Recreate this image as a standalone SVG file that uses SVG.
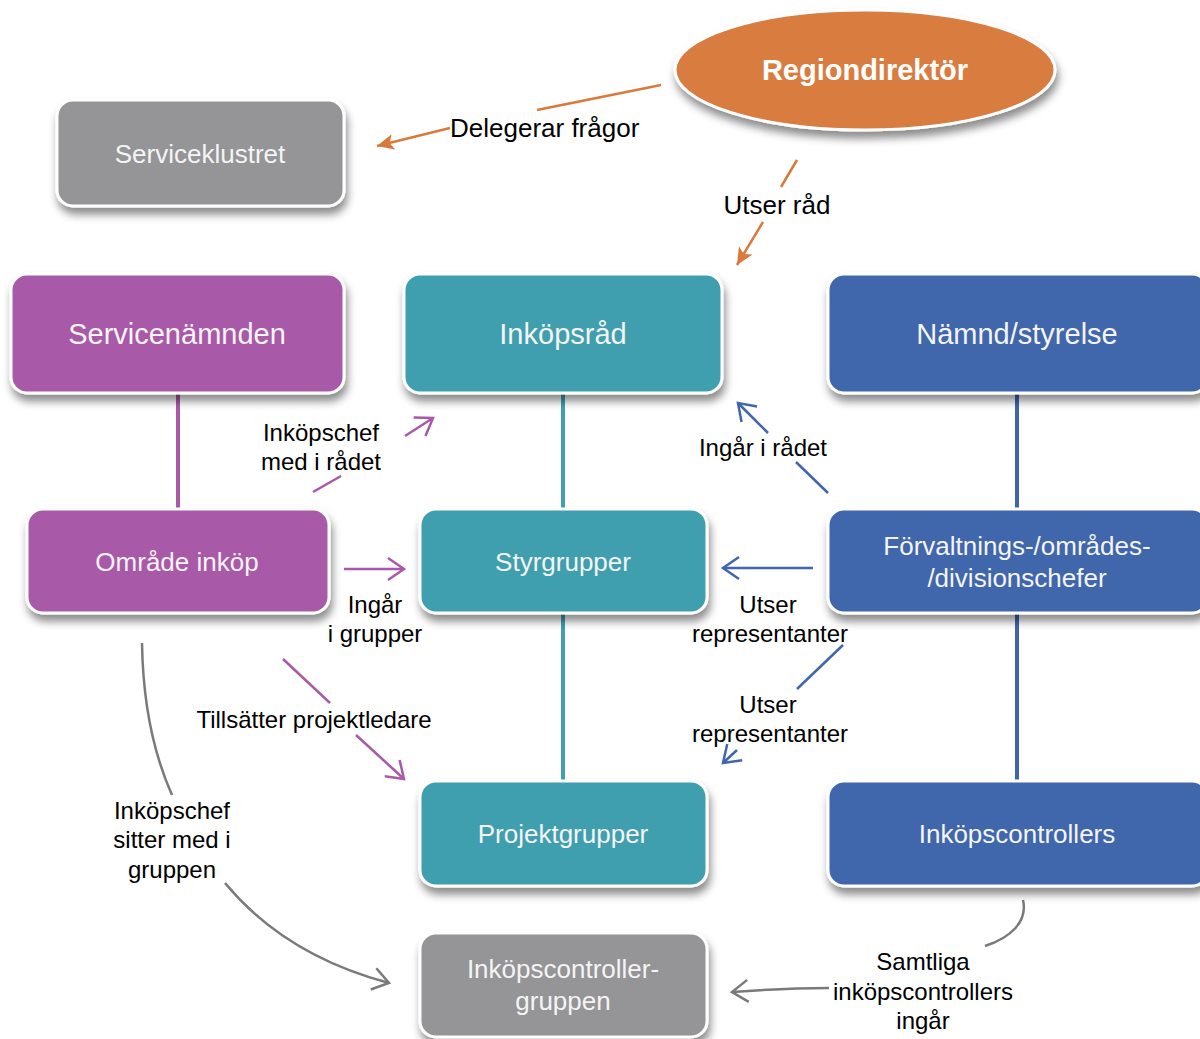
<svg xmlns="http://www.w3.org/2000/svg" width="1200" height="1039" viewBox="0 0 1200 1039">
<style>
.box{stroke:#ffffff;stroke-width:3;filter:url(#sh)}
.nt{font-family:"Liberation Sans",Arial,sans-serif;fill:#f4f4f4;text-anchor:middle}
.lb{font-family:"Liberation Sans",Arial,sans-serif;fill:#000;text-anchor:middle;font-size:24px}
.c{fill:none;stroke-width:2.5}
.or{stroke:#D9793B}.pu{stroke:#A85AA8}.bl{stroke:#4066AC}.gr{stroke:#7a7a7a}
.gray{fill:#959597}.purple{fill:#A85AA8}.teal{fill:#419FAF}.blue{fill:#3F66AB}
</style>
<defs>
<filter id="sh" x="-10%" y="-10%" width="125%" height="135%">
<feDropShadow dx="2" dy="7" stdDeviation="4" flood-color="#000" flood-opacity="0.45"/>
</filter>
<marker id="aPu" markerUnits="userSpaceOnUse" markerWidth="22" markerHeight="26" viewBox="0 0 22 26" refX="19" refY="13" orient="auto"><path d="M3,2 L19,13 L3,24" fill="none" stroke="#A85AA8" stroke-width="2.5"/></marker>
<marker id="aBl" markerUnits="userSpaceOnUse" markerWidth="22" markerHeight="26" viewBox="0 0 22 26" refX="19" refY="13" orient="auto"><path d="M3,2 L19,13 L3,24" fill="none" stroke="#4066AC" stroke-width="2.5"/></marker>
<marker id="aGr" markerUnits="userSpaceOnUse" markerWidth="22" markerHeight="26" viewBox="0 0 22 26" refX="19" refY="13" orient="auto"><path d="M3,2 L19,13 L3,24" fill="none" stroke="#7a7a7a" stroke-width="2.5"/></marker>
<marker id="aOr" markerUnits="userSpaceOnUse" markerWidth="18" markerHeight="16" viewBox="0 0 18 16" refX="17" refY="8" orient="auto"><path d="M0,0 L17,8 L0,16 L4,8 Z" fill="#D9793B"/></marker>
</defs>
<rect width="1200" height="1039" fill="#ffffff"/>

<g id="connectors">
<line class="c pu" x1="178" y1="393" x2="178" y2="509" stroke-width="4" style="stroke-width:4"/>
<line class="c" x1="563" y1="393" x2="563" y2="509" style="stroke:#419FAF;stroke-width:4"/>
<line class="c" x1="563" y1="613" x2="563" y2="781" style="stroke:#419FAF;stroke-width:4"/>
<line class="c" x1="1017" y1="393" x2="1017" y2="509" style="stroke:#3F66AB;stroke-width:4"/>
<line class="c" x1="1017" y1="613" x2="1017" y2="781" style="stroke:#3F66AB;stroke-width:4"/>

<path class="c or" d="M661,85 L537,110"/>
<path class="c or" d="M450,128 L377,146" marker-end="url(#aOr)"/>
<path class="c or" d="M797,160 L781,187"/>
<path class="c or" d="M763,222 L737,265" marker-end="url(#aOr)"/>

<path class="c pu" d="M313,492 L341,476"/>
<path class="c pu" d="M405,436 L433,418" marker-end="url(#aPu)"/>
<path class="c bl" d="M828,493 L796,462"/>
<path class="c bl" d="M768,433 L738,403" marker-end="url(#aBl)"/>

<path class="c pu" d="M344,569 L404,569" marker-end="url(#aPu)"/>
<path class="c bl" d="M813,568 L723,568" marker-end="url(#aBl)"/>
<path class="c bl" d="M843,645 L797,689"/>
<path class="c bl" d="M737,750 L723,763" marker-end="url(#aBl)"/>

<path class="c pu" d="M283,659 L330,703"/>
<path class="c pu" d="M356,735 L404,779" marker-end="url(#aPu)"/>

<path class="c gr" d="M142,643 C143,705 155,757 172,795"/>
<path class="c gr" d="M225,883 C268,935 325,966 389,983" marker-end="url(#aGr)"/>
<path class="c gr" d="M1023,900 C1028,922 1010,938 985,946"/>
<path class="c gr" d="M829,988 C800,988 760,990 732,992" marker-end="url(#aGr)"/>
</g>

<g id="labels">
<text class="lb" x="450" y="137" style="text-anchor:start;font-size:26px">Delegerar frågor</text>
<text class="lb" x="777" y="214" style="font-size:26px">Utser råd</text>
<text class="lb" x="321" y="441">Inköpschef</text>
<text class="lb" x="321" y="470">med i rådet</text>
<text class="lb" x="763" y="456">Ingår i rådet</text>
<text class="lb" x="375" y="613">Ingår</text>
<text class="lb" x="375" y="642">i grupper</text>
<text class="lb" x="768" y="613">Utser</text>
<text class="lb" x="770" y="642">representanter</text>
<text class="lb" x="768" y="713">Utser</text>
<text class="lb" x="770" y="742">representanter</text>
<text class="lb" x="314" y="728">Tillsätter projektledare</text>
<text class="lb" x="172" y="819">Inköpschef</text>
<text class="lb" x="172" y="848">sitter med i</text>
<text class="lb" x="172" y="878">gruppen</text>
<text class="lb" x="923" y="970">Samtliga</text>
<text class="lb" x="923" y="1000">inköpscontrollers</text>
<text class="lb" x="923" y="1029">ingår</text>
</g>

<g id="regiondirektor">
<ellipse cx="865" cy="70" rx="190" ry="60" fill="#D87B3F" stroke="#fff" stroke-width="3" filter="url(#sh)"/>
<text class="nt" x="865" y="80" style="font-size:29px;font-weight:bold;fill:#fff">Regiondirektör</text>
</g>
<g id="serviceklustret">
<rect class="box gray" x="57" y="100" width="287" height="106" rx="16"/>
<text class="nt" x="200" y="163" font-size="26">Serviceklustret</text>
</g>
<g id="servicenamnden">
<rect class="box purple" x="11" y="274" width="333" height="119" rx="16"/>
<text class="nt" x="177" y="344" font-size="29">Servicenämnden</text>
</g>
<g id="inkopsrad">
<rect class="box teal" x="404" y="274" width="318" height="119" rx="16"/>
<text class="nt" x="563" y="344" font-size="29">Inköpsråd</text>
</g>
<g id="namnd">
<rect class="box blue" x="828" y="274" width="380" height="119" rx="16"/>
<text class="nt" x="1017" y="344" font-size="29">Nämnd/styrelse</text>
</g>
<g id="omrade">
<rect class="box purple" x="27" y="509" width="302" height="104" rx="16"/>
<text class="nt" x="177" y="571" font-size="26">Område inköp</text>
</g>
<g id="styrgrupper">
<rect class="box teal" x="420" y="509" width="287" height="104" rx="16"/>
<text class="nt" x="563" y="571" font-size="26">Styrgrupper</text>
</g>
<g id="forvaltning">
<rect class="box blue" x="828" y="509" width="380" height="104" rx="16"/>
<text class="nt" x="1017" y="555" font-size="26">Förvaltnings-/områdes-</text>
<text class="nt" x="1017" y="587" font-size="26">/divisionschefer</text>
</g>
<g id="projektgrupper">
<rect class="box teal" x="420" y="781" width="287" height="105" rx="16"/>
<text class="nt" x="563" y="843" font-size="26">Projektgrupper</text>
</g>
<g id="inkopscontrollers">
<rect class="box blue" x="828" y="781" width="380" height="105" rx="16"/>
<text class="nt" x="1017" y="843" font-size="26">Inköpscontrollers</text>
</g>
<g id="controllergruppen">
<rect class="box gray" x="420" y="933" width="287" height="104" rx="16"/>
<text class="nt" x="563" y="978" font-size="26">Inköpscontroller-</text>
<text class="nt" x="563" y="1010" font-size="26">gruppen</text>
</g>
</svg>
